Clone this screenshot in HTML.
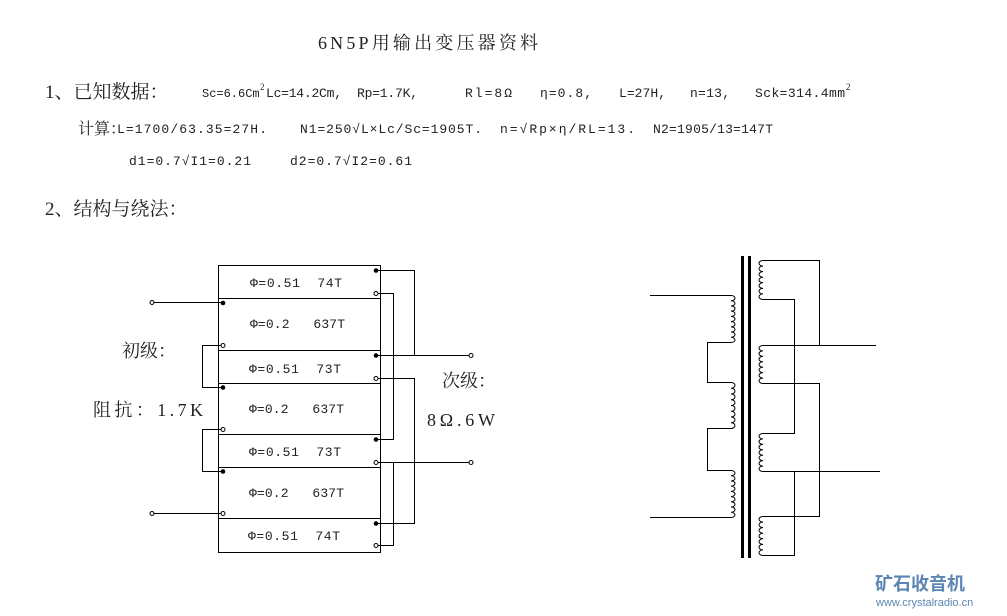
<!DOCTYPE html>
<html><head><meta charset="utf-8"><style>
body{margin:0;background:#fff;width:1007px;height:616px;overflow:hidden}
svg{display:block}
text{font-family:"Liberation Serif","Noto Serif CJK SC",serif;fill:#222;white-space:pre}
.s{font-size:13px;font-family:"Liberation Mono","Noto Serif CJK SC",monospace}
.b{font-size:18px}
</style></head><body>
<svg id="g" width="1007" height="616" viewBox="0 0 1007 616" xmlns="http://www.w3.org/2000/svg">
<text class="b" x="318" y="49" textLength="220">6N5P用输出变压器资料</text>
<text class="b" x="45" y="98" style="font-size:19px">1、已知数据：</text>
<text class="s" x="202" y="97" style="font-size:12px">Sc=6.6Cm</text><text x="260" y="90" font-size="9">2</text>
<text class="s" x="266" y="97" textLength="76">Lc=14.2Cm,</text>
<text class="s" x="357" y="97" textLength="61">Rp=1.7K,</text>
<text class="s" x="465" y="97" textLength="47">Rl=8Ω</text>
<text class="s" x="540" y="97" textLength="52">η=0.8,</text>
<text class="s" x="619" y="97" textLength="47">L=27H,</text>
<text class="s" x="690" y="97" textLength="40">n=13,</text>
<text class="s" x="755" y="97" textLength="90">Sck=314.4mm</text><text x="846" y="90" font-size="9">2</text>
<text x="78" y="134" style="font-size:16px">计算：</text>
<text class="s" x="117" y="133" textLength="150">L=1700/63.35=27H.</text>
<text class="s" x="300" y="133" textLength="182">N1=250√L×Lc/Sc=1905T.</text>
<text class="s" x="500" y="133" textLength="135">n=√Rp×η/RL=13.</text>
<text class="s" x="653" y="133" textLength="120">N2=1905/13=147T</text>
<text class="s" x="129" y="165" textLength="122">d1=0.7√I1=0.21</text>
<text class="s" x="290" y="165" textLength="122">d2=0.7√I2=0.61</text>
<text class="b" x="45" y="215" style="font-size:19px">2、结构与绕法：</text>
<text class="b" x="122" y="357">初级：</text>
<text class="b" x="93" y="416" textLength="110">阻抗：1.7K</text>
<text class="b" x="442" y="387">次级：</text>
<text class="b" x="427" y="426" textLength="68">8Ω.6W</text>
<g stroke="#000" stroke-width="1" fill="none">
<rect x="218.5" y="265.5" width="162" height="287"/>
<path d="M218 298.5H380M218 350.5H380M218 383.5H380M218 434.5H380M218 467.5H380M218 518.5H380"/>
<path d="M376 270.5H414.5V355.5H471M376 355.5H414M376 293.5H393.5V439.5H376M376 378.5H414.5V523.5H376M376 462.5H471M393.5 462.5V545.5H376"/>
<path d="M152 302.5H223M152 513.5H223M223 345.5H202.5V387.5H223M223 429.5H202.5V471.5H223"/>
</g>
<g fill="#000">
<circle cx="376" cy="270.5" r="2.3"/><circle cx="376" cy="355.5" r="2.3"/><circle cx="376" cy="439.5" r="2.3"/><circle cx="376" cy="523.5" r="2.3"/>
<circle cx="223" cy="303" r="2.3"/><circle cx="223" cy="387.5" r="2.3"/><circle cx="223" cy="471.5" r="2.3"/>
</g>
<g fill="#fff" stroke="#000" stroke-width="1">
<circle cx="376" cy="293.5" r="2"/><circle cx="376" cy="378.5" r="2"/><circle cx="376" cy="462.5" r="2"/><circle cx="376" cy="545.5" r="2"/>
<circle cx="223" cy="345.5" r="2"/><circle cx="223" cy="429.5" r="2"/><circle cx="223" cy="513.5" r="2"/>
<circle cx="152" cy="302.5" r="2"/><circle cx="152" cy="513.5" r="2"/><circle cx="471" cy="355.5" r="2"/><circle cx="471" cy="462.5" r="2"/>
</g>
<g>
<text class="s" x="250" y="287" textLength="92">Φ=0.51&#160;&#160;74T</text>
<text class="s" x="250" y="328" textLength="95">Φ=0.2&#160;&#160;&#160;637T</text>
<text class="s" x="249" y="373" textLength="92">Φ=0.51&#160;&#160;73T</text>
<text class="s" x="249" y="413" textLength="95">Φ=0.2&#160;&#160;&#160;637T</text>
<text class="s" x="249" y="456" textLength="92">Φ=0.51&#160;&#160;73T</text>
<text class="s" x="249" y="497" textLength="95">Φ=0.2&#160;&#160;&#160;637T</text>
<text class="s" x="248" y="540" textLength="92">Φ=0.51&#160;&#160;74T</text>
</g>
<rect x="741" y="256" width="3" height="302" fill="#000"/>
<rect x="748" y="256" width="3" height="302" fill="#000"/>
<g stroke="#000" stroke-width="1" fill="none" id="w">
<path d="M650 295.5H731M650 517.5H731M731 342.5H707.5V382.5H731M731 428.5H707.5V470.5H731"/>
<path d="M763 260.5H819.5V345.5H763M763 345.5H876M763 299.5H794.5V433.5H763M763 383.5H819.5V516.5H763M763 471.5H880M794.5 471.5V555.5H763"/>
</g>
<text x="875" y="590" style="font-family:'Noto Sans CJK SC',sans-serif;font-size:18px;font-weight:bold;fill:#5b86b3">矿石收音机</text>
<text x="876" y="606" style="font-family:'Liberation Sans',sans-serif;font-size:11px;fill:#5b86b3">www.crystalradio.cn</text>
</svg>
<script>
(function(){
var w=document.getElementById('w');
function coil(x,y1,y2,dir){
 var n=Math.round((y2-y1)/5.5),h=(y2-y1)/n,d='M'+x+' '+y1;
 for(var i=0;i<n;i++){d+=' a4 '+(h/2)+' 0 0 '+(dir>0?1:0)+' 0 '+h;}
 var p=document.createElementNS('http://www.w3.org/2000/svg','path');p.setAttribute('d',d);w.appendChild(p);
}
coil(731,295.5,342.5,1);coil(731,382.5,428.5,1);coil(731,470.5,517.5,1);
coil(763,260.5,299.5,-1);coil(763,345.5,383.5,-1);coil(763,433.5,471.5,-1);coil(763,516.5,555.5,-1);
})();
</script>
</body></html>
